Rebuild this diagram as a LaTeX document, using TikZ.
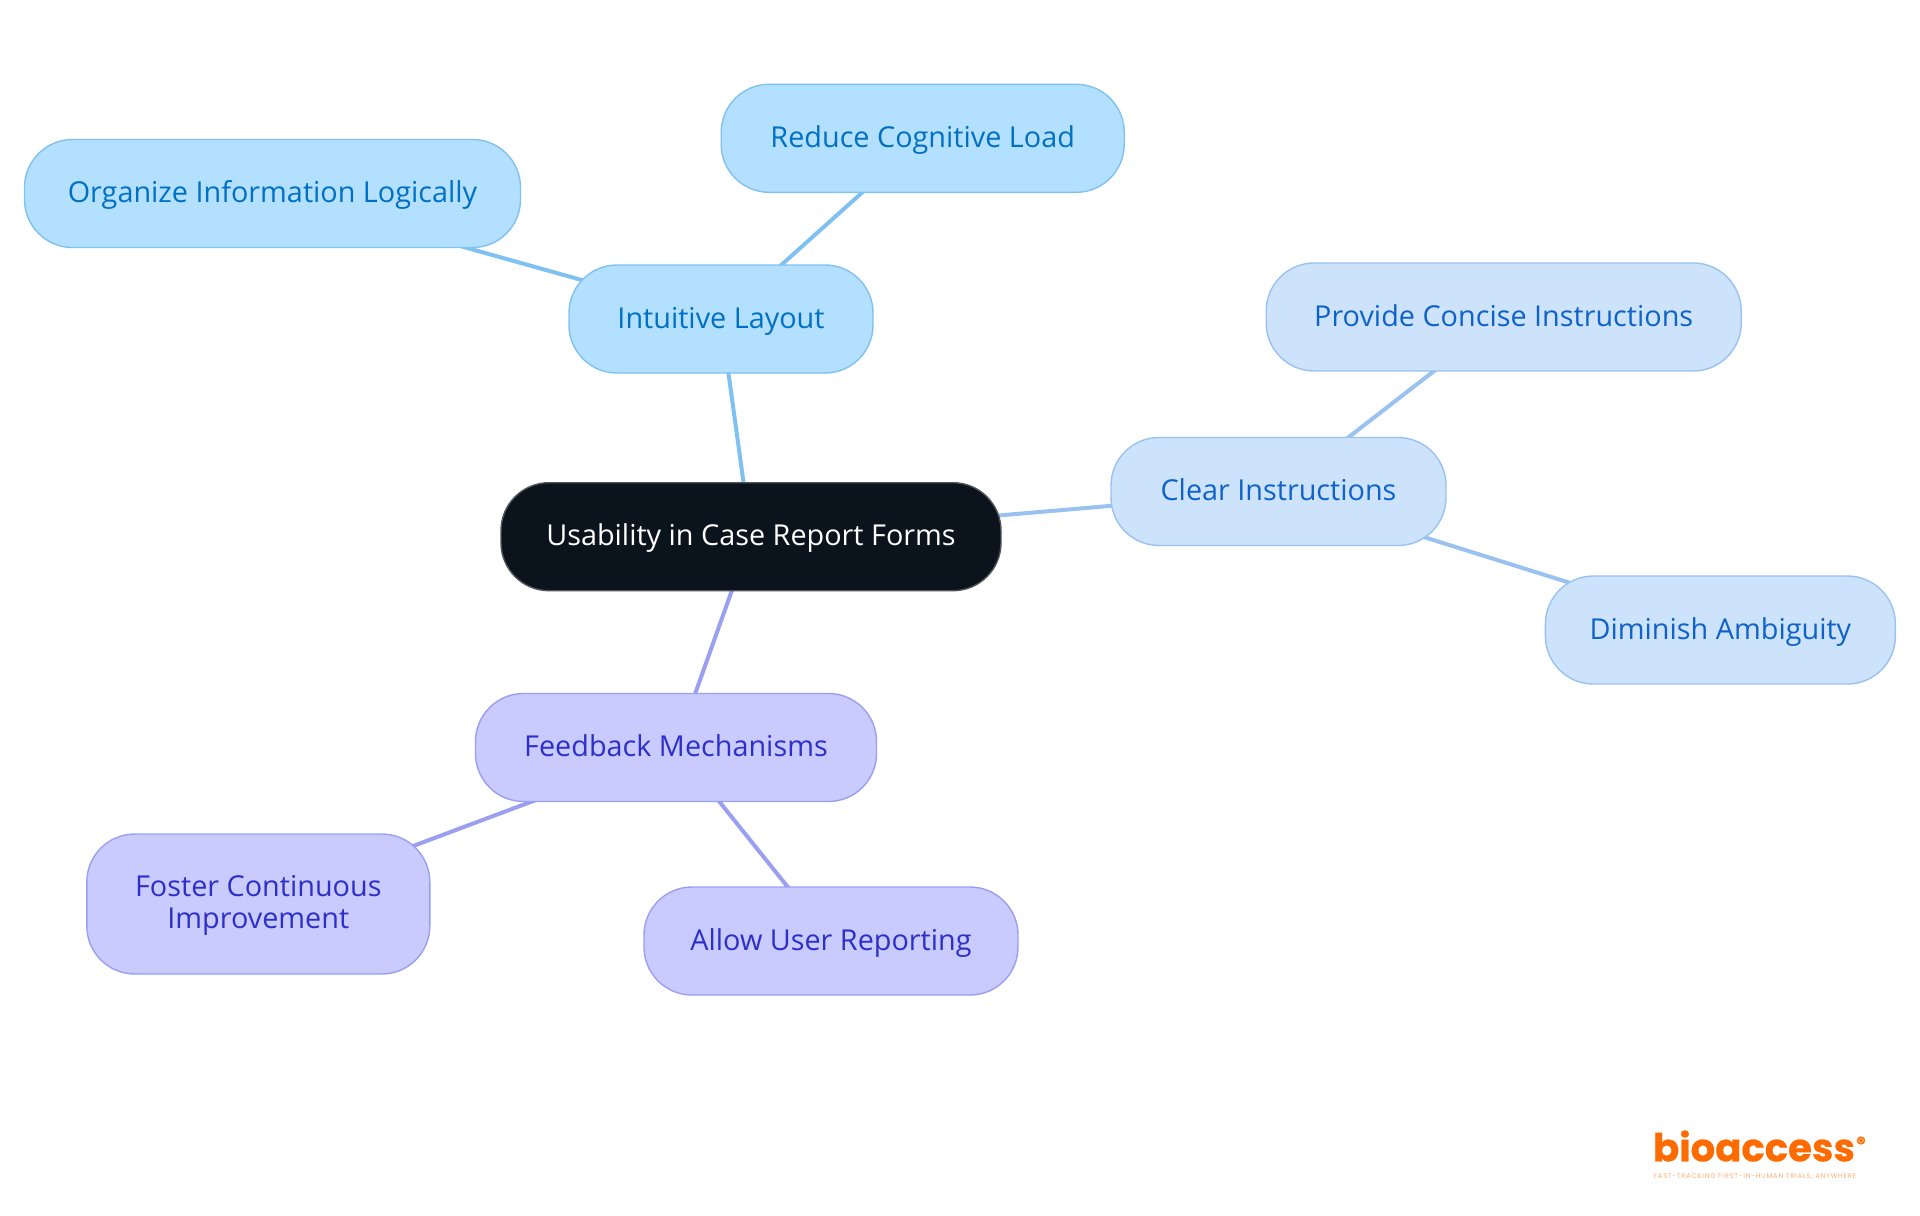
\documentclass[tikz,border=0pt]{standalone}
\usepackage{fontspec}
\setmainfont{Open Sans}
\newfontfamily\logofont[BoldFeatures={FakeBold=0.6}]{Poppins}
\newfontfamily\taglinefont[LetterSpace=11]{Poppins}
\usetikzlibrary{backgrounds}
\definecolor{rootfill}{HTML}{0B131C}
\definecolor{rootline}{HTML}{50555A}
\definecolor{skyfill}{HTML}{B4E0FF}
\definecolor{skyline}{HTML}{7FC1F0}
\definecolor{skytext}{HTML}{0070C4}
\definecolor{bluefill}{HTML}{CDE3FC}
\definecolor{blueline}{HTML}{99C2F0}
\definecolor{bluetext}{HTML}{0F62C8}
\definecolor{violetfill}{HTML}{C9CBFF}
\definecolor{violetline}{HTML}{9A9FF0}
\definecolor{violettext}{HTML}{2E2FC8}
\definecolor{logoorange}{HTML}{FF6B00}
\tikzset{
  box/.style={draw, rounded corners=24pt, line width=0.7pt, minimum height=54pt, inner sep=0pt,
    align=center, font=\fontsize{14.4}{15.6}\selectfont, text height=11pt, text depth=1.7pt},
  rootbox/.style={box, fill=rootfill, draw=rootline, text=white},
  skybox/.style={box, fill=skyfill, draw=skyline, text=skytext},
  bluebox/.style={box, fill=bluefill, draw=blueline, text=bluetext},
  violetbox/.style={box, fill=violetfill, draw=violetline, text=violettext},
  skylink/.style={draw=skyline, line width=2pt},
  bluelink/.style={draw=blueline, line width=2pt},
  violetlink/.style={draw=violetline, line width=2pt}
}
\begin{document}
\begin{tikzpicture}[x=0.5pt, y=-0.5pt]
\useasboundingbox (0,0) rectangle (1920,1215);

\node (root)[rootbox, minimum width=250pt, text depth=2.2pt] at (751,536.7) {Usability in Case Report Forms};

\node (layout)[skybox, minimum width=152pt] at (721,319) {Intuitive Layout};
\node (cognitive)[skybox, minimum width=201.5pt] at (922.7,138.3) {Reduce Cognitive Load};
\node (organize)[skybox, minimum width=248pt] at (272.5,193.5) {Organize Information Logically};

\node (clear)[bluebox, minimum width=167.5pt] at (1278.5,491.5) {Clear Instructions};
\node (concise)[bluebox, minimum width=237.5pt] at (1503.7,317) {Provide Concise Instructions};
\node (ambiguity)[bluebox, minimum width=175pt] at (1720.4,630) {Diminish Ambiguity};

\node (feedback)[violetbox, minimum width=200.5pt] at (676,747.5) {Feedback Mechanisms};
\node (foster)[violetbox, minimum width=171.5pt, minimum height=70pt, text height=25.7pt] at (258.3,904) {Foster Continuous\\Improvement};
\node (reporting)[violetbox, minimum width=187pt] at (831,941) {Allow User Reporting};

\node (logo)[text=logoorange, font=\logofont\bfseries\fontsize{19.3}{20}\selectfont, inner sep=0pt] at (1754,1146) {bioaccess};
\node (regmark)[text=logoorange, font=\logofont\bfseries\fontsize{9}{9}\selectfont, inner sep=0pt] at (1861,1143) {®};
\node (tagline)[text=logoorange!55, font=\taglinefont\fontsize{3.4}{4}\selectfont, inner sep=0pt] at (1755,1177) {FAST-TRACKING FIRST-IN-HUMAN TRIALS, ANYWHERE};

\begin{scope}[on background layer]
\draw[skylink] (root.center) -- (layout.center);
\draw[skylink] (layout.center) -- (cognitive.center);
\draw[skylink] (layout.center) -- (organize.center);
\draw[bluelink] (root.center) -- (clear.center);
\draw[bluelink] (clear.center) -- (concise.center);
\draw[bluelink] (clear.center) -- (ambiguity.center);
\draw[violetlink] (root.center) -- (feedback.center);
\draw[violetlink] (feedback.center) -- (foster.center);
\draw[violetlink] (feedback.center) -- (reporting.center);
\end{scope}

\end{tikzpicture}
\end{document}
